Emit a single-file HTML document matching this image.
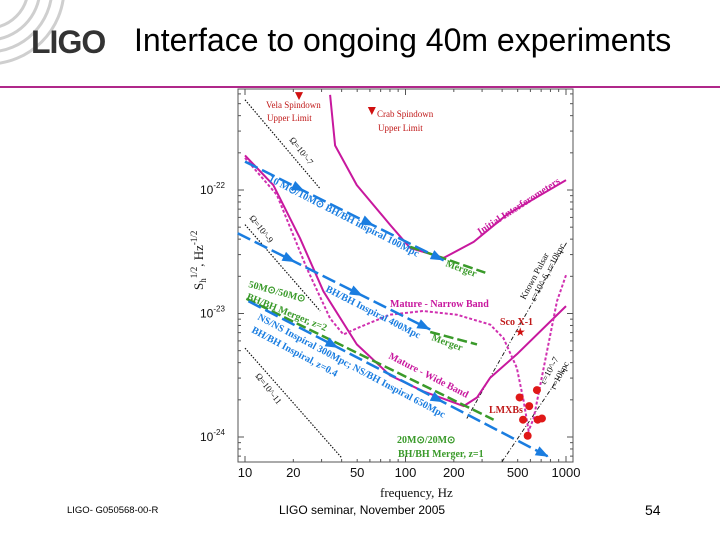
<!DOCTYPE html>
<html><head><meta charset="utf-8"><style>
body{margin:0;width:720px;height:540px;background:#fff;overflow:hidden;position:relative;font-family:"Liberation Sans",sans-serif}
.t{position:absolute;white-space:nowrap}
svg text{font-family:"Liberation Serif",serif}
</style></head><body>
<svg width="80" height="80" style="position:absolute;left:0;top:0">
<g fill="none" stroke="#cfcfcf" stroke-width="3">
<path d="M-10,28 A40,40 0 0 0 28,-10"/><path d="M-10,40 A52,52 0 0 0 40,-10"/><path d="M-10,52 A64,64 0 0 0 52,-10"/><path d="M-10,64 A76,76 0 0 0 64,-10"/></g></svg>
<div class="t" style="left:31px;top:24px;font-size:32px;font-weight:bold;color:#333;letter-spacing:-1px">LIGO</div>
<div class="t" style="left:134px;top:22px;font-size:32px;color:#000">Interface to ongoing 40m experiments</div>
<div style="position:absolute;left:0;top:86px;width:720px;height:2px;background:#b0288a"></div>
<div class="t" style="left:67px;top:505px;font-size:9.5px;color:#000">LIGO- G050568-00-R</div>
<div class="t" style="left:279px;top:503px;font-size:12px;color:#000">LIGO seminar, November 2005</div>
<div class="t" style="left:645px;top:502px;font-size:14px;color:#000">54</div>

<svg id="chart" width="720" height="540" style="position:absolute;left:0;top:0">
<rect x="238" y="89" width="335" height="373" fill="none" stroke="#555" stroke-width="1"/>
<g id="g"></g>
</svg>
<script>
// data (frequency Hz, log10 strain)
const xTicks=[10,20,50,100,200,500,1000];
const yTicksExp=[-22,-23,-24];
const initialF=[33.9,36.4,49.7,80,107,173,266,428,1000];
const initialH=[-21.23,-21.64,-21.96,-22.28,-22.47,-22.55,-22.42,-22.20,-21.92];
const wideF=[10,15,22,30.8,49.7,80,129,230,279,337,494,1000];
const wideH=[-21.72,-21.96,-22.39,-22.82,-23.25,-23.50,-23.63,-23.75,-23.68,-23.52,-23.33,-22.94];
const narrowF=[10,15.8,24.2,33.9,41,49.7,80,129,209,337,408,494,545,585,628,726,879,1000];
const narrowH=[-21.74,-22.04,-22.63,-23.04,-23.17,-23.12,-23.01,-22.98,-23.01,-23.09,-23.20,-23.44,-23.71,-23.95,-23.85,-23.44,-22.90,-22.69];
const blueF=[[10,173],[9,142.6],[10.5,780]];
const blueH=[[-21.77,-22.57],[-22.35,-23.13],[-22.90,-24.16]];
const greenF=[[107,314],[142.6,279],[10.2,354]];
const greenH=[[-22.46,-22.67],[-23.15,-23.25],[-22.88,-23.86]];
const omegaF=[[10,29.4],[10,29.4],[10,40.1]];
const omegaH=[[-21.27,-21.99],[-22.28,-22.98],[-23.28,-24.17]];
const pulsarF=[[241,1014],[399,1014]];
const pulsarH=[[-23.85,-22.42],[-24.20,-23.42]];
const spindownF=[21.7,61.7];
const spindownH=[-21.24,-21.36];
const scoF=[519], scoH=[-23.15];
const lmxbF=[514,659,590,540,666,708,577];
const lmxbH=[-23.68,-23.62,-23.75,-23.86,-23.86,-23.85,-23.99];

const X=f=>245+(Math.log10(f)-1)*160.5;
const Y=l=>190+(-22-l)*123.5;
const NS='http://www.w3.org/2000/svg';
const G=document.getElementById('g');
function mk(tag,at){const e=document.createElementNS(NS,tag);for(const k in at)e.setAttribute(k,at[k]);G.appendChild(e);return e;}
function pts(F,H){return F.map((f,i)=>X(f).toFixed(1)+','+Y(H[i]).toFixed(1)).join(' ');}

for(let d=1;d<=3;d++)for(let m=1;m<10;m++){const f=Math.pow(10,d)*m;if(f<9||f>1100)continue;const x=X(f);const L=m==1?6:3;
 let t=mk('line',{x1:x,x2:x,y1:462,y2:462-L,stroke:'#555'});
 
 
 t=mk('line',{x1:x,x2:x,y1:89,y2:89+L,stroke:'#555'});
 
 }
for(let e=-25;e<=-22;e++)for(let m=1;m<10;m++){const l=e+Math.log10(m);const y=Y(l);if(y<89||y>462)continue;const L=m==1?6:3;
 let t=mk('line',{x1:238,x2:238+L,y1:y,y2:y,stroke:'#555'});
 
 
 t=mk('line',{x1:573,x2:573-L,y1:y,y2:y,stroke:'#555'});
 
 }
xTicks.forEach(f=>{const t=mk('text',{x:X(f),y:477,'text-anchor':'middle','font-size':13,fill:'#111'});t.style.fontFamily='Liberation Sans';t.textContent=f;
 
 });
yTicksExp.forEach(e=>{const t=mk('text',{x:200,y:Y(e)+4,'font-size':12,fill:'#111'});t.style.fontFamily='Liberation Sans';
 t.innerHTML='10<tspan dy="-6" font-size="8">'+e+'</tspan>';
 
 });

omegaF.forEach((F,i)=>{const l=mk('polyline',{points:pts(F,omegaH[i]),fill:'none',stroke:'#111','stroke-width':1.2,'stroke-dasharray':'1.5 1.5'});
 
 });
pulsarF.forEach((F,i)=>{const l=mk('polyline',{points:pts(F,pulsarH[i]),fill:'none',stroke:'#111','stroke-width':0.9,'stroke-dasharray':'4 2 1 2'});
 
 });
let c=mk('polyline',{points:pts(initialF,initialH),fill:'none',stroke:'#c8189e','stroke-width':2,'stroke-linejoin':'round'});


c=mk('polyline',{points:pts(wideF,wideH),fill:'none',stroke:'#c8189e','stroke-width':2,'stroke-linejoin':'round'});


c=mk('polyline',{points:pts(narrowF,narrowH),fill:'none',stroke:'#d030b0','stroke-width':2,'stroke-dasharray':'3 2'});


greenF.forEach((F,i)=>{const l=mk('polyline',{points:pts(F,greenH[i]),fill:'none',stroke:'#3a9a2a','stroke-width':2.5,'stroke-dasharray':'10 4'});
 
 });
blueF.forEach((F,i)=>{const x1=X(F[0]),y1=Y(blueH[i][0]),x2=X(F[1]),y2=Y(blueH[i][1]);
 const l=mk('line',{x1,y1,x2,y2,stroke:'#1a7de0','stroke-width':2.5,'stroke-dasharray':'14 5'});
 
 
 const a=Math.atan2(y2-y1,x2-x1)*180/Math.PI;
 [0.3,0.65,1].forEach(t=>{const px=x1+(x2-x1)*t,py=y1+(y2-y1)*t;
  const h=mk('polygon',{points:'0,0 -13,-5 -13,5',fill:'#1a7de0',transform:`translate(${px},${py}) rotate(${a})`});
  
  });});
spindownF.forEach((f,i)=>{const x=X(f),y=Y(spindownH[i]);const m=mk('polygon',{points:`${x-4},${y-4} ${x+4},${y-4} ${x},${y+4}`,fill:'#d01010'});
 
 });
scoF.forEach((f,i)=>{const m=mk('text',{x:X(f),y:Y(scoH[i])+4,'text-anchor':'middle','font-size':12,fill:'#d01010'});m.textContent='★';
 
 });
lmxbF.forEach((f,i)=>{const m=mk('circle',{cx:X(f),cy:Y(lmxbH[i]),r:4,fill:'#e01818'});
 
 });
</script>
<svg width="720" height="540" style="position:absolute;left:0;top:0" font-family="Liberation Serif, serif">
<g font-size="9" fill="#c01818">
<text x="266" y="108">Vela Spindown</text>
<text x="267" y="121">Upper Limit</text>
<text x="377" y="117">Crab Spindown</text>
<text x="378" y="131">Upper Limit</text>
</g>
<g font-size="9" fill="#111">
<text transform="translate(289,140) rotate(52)">Ω=10^-7</text>
<text transform="translate(249,218) rotate(52)">Ω=10^-9</text>
<text transform="translate(255,376) rotate(52)">Ω=10^-11</text>
<text transform="translate(525,300) rotate(-62)">Known Pulsar</text>
<text transform="translate(535,302) rotate(-62)">ε=10^-6, r=10kpc</text>
<text transform="translate(545,385) rotate(-62)">ε=10^-7</text>
<text transform="translate(555,390) rotate(-62)">r=10kpc</text>
</g>
<g font-size="10" font-weight="bold" fill="#c8189e">
<text transform="translate(480,235) rotate(-33)">Initial Interferometers</text>
<text x="390" y="307">Mature - Narrow Band</text>
<text transform="translate(388,358) rotate(27)">Mature - Wide Band</text>
</g>
<g font-size="10" font-weight="bold" fill="#1a7de0">
<text transform="translate(268,181) rotate(27)">10 M⊙/10M⊙ BH/BH inspiral 100Mpc</text>
<text transform="translate(325,291) rotate(27)">BH/BH Inspiral 400Mpc</text>
<text transform="translate(257,319) rotate(28)">NS/NS Inspiral 300Mpc; NS/BH Inspiral 650Mpc</text>
<text transform="translate(251,332) rotate(28)">BH/BH Inspiral, z=0.4</text>
</g>
<g font-size="10" font-weight="bold" fill="#3a9a2a">
<text transform="translate(445,266) rotate(20)">Merger</text>
<text transform="translate(431,340) rotate(20)">Merger</text>
<text transform="translate(248,287) rotate(15)">50M⊙/50M⊙</text>
<text transform="translate(246,299) rotate(22)">BH/BH Merger, z=2</text>
<text x="397" y="443">20M⊙/20M⊙</text>
<text x="398" y="457">BH/BH Merger, z=1</text>
</g>
<g font-size="10" font-weight="bold" fill="#c01818">
<text x="500" y="325">Sco X-1</text>
<text x="489" y="413">LMXBs</text>
</g>
<text transform="translate(203,290) rotate(-90)" font-size="13" fill="#111">S<tspan font-size="9" dy="3">h</tspan><tspan font-size="9" dy="-9">1/2</tspan><tspan dy="6">, Hz</tspan><tspan font-size="9" dy="-6">-1/2</tspan></text>
<text x="380" y="497" font-size="13" fill="#111">frequency, Hz</text>
</svg>
</body></html>
